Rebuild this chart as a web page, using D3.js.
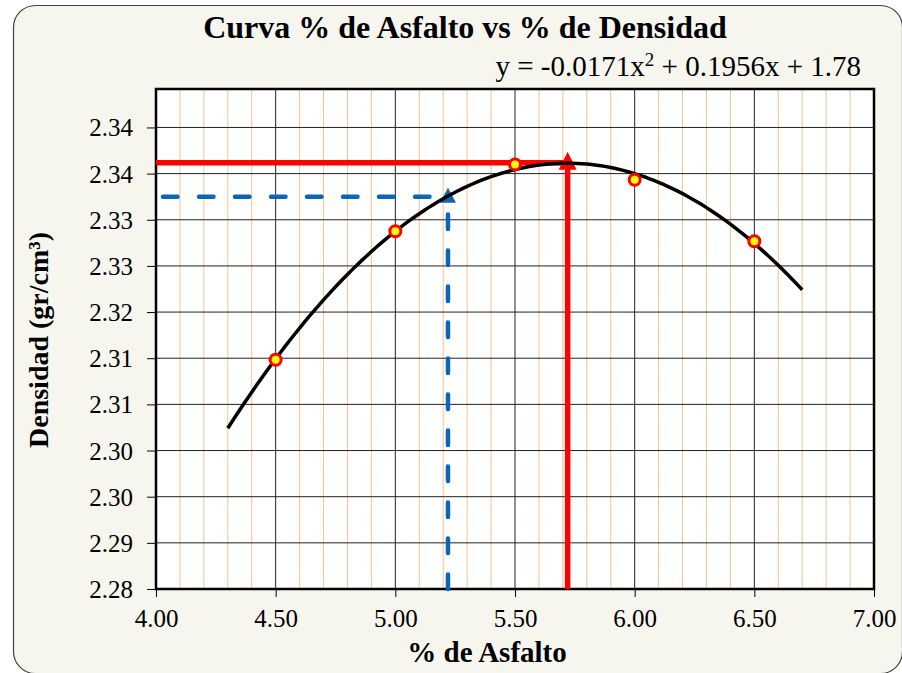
<!DOCTYPE html>
<html>
<head>
<meta charset="utf-8">
<script src="https://cdn.jsdelivr.net/npm/d3@7"></script>
<style>
  body { margin: 0; background: #ffffff; }
  svg text { font-family: "Liberation Serif", "Times New Roman", serif; fill: #000; }
</style>
</head>
<body>
<svg id="chart" width="902" height="673"></svg>
<script>
const width = 902;
const height = 673;
const margin = { top: 89, right: 28, bottom: 84, left: 156 };

// data
const asfalto = [4.5, 5.0, 5.5, 6.0, 6.5];
const densidad = [2.3138, 2.3305, 2.3392, 2.3372, 2.3292];
const coef = [-0.0171, 0.1956, 1.78];      // trend line y = a x^2 + b x + c
const curveRange = [4.3, 6.7];
const optimo = { x: 5.72, y: 2.3394 };       // red marker line
const diseno = { x: 5.22, y: 2.335 };        // blue dashed marker line
const xTicks = [4.0, 4.5, 5.0, 5.5, 6.0, 6.5, 7.0];
const xMinor = [4.1, 4.2, 4.3, 4.4, 4.6, 4.7, 4.8, 4.9, 5.1, 5.2, 5.3, 5.4, 5.6, 5.7, 5.8, 5.9,
                6.1, 6.2, 6.3, 6.4, 6.6, 6.7, 6.8, 6.9];
const yTicks = [2.284, 2.290, 2.296, 2.302, 2.308, 2.314, 2.320, 2.326, 2.332, 2.338, 2.344];
const yDomain = [2.284, 2.349];

const svg = d3.select("#chart");

// outer chart area
svg.append("rect")
  .attr("x", 13.5).attr("y", 5.5)
  .attr("width", 889).attr("height", 668)
  .attr("rx", 22)
  .attr("fill", "#f6f6ef")
  .attr("stroke", "#404040")
  .attr("stroke-width", 1.2);

const x = d3.scaleLinear().domain([4, 7]).range([margin.left, width - margin.right]);
const y = d3.scaleLinear().domain(yDomain).range([height - margin.bottom, margin.top]);

const plotW = x.range()[1] - x.range()[0];
const plotH = y.range()[0] - y.range()[1];

svg.append("rect")
  .attr("x", margin.left).attr("y", margin.top)
  .attr("width", plotW).attr("height", plotH)
  .attr("fill", "#ffffff");

// minor vertical grid (orange)
svg.append("g").selectAll("line").data(xMinor).join("line")
  .attr("x1", d => x(d)).attr("x2", d => x(d))
  .attr("y1", margin.top).attr("y2", margin.top + plotH)
  .attr("stroke", "#f7c090").attr("stroke-width", 1);

// major vertical grid
svg.append("g").selectAll("line").data(xTicks).join("line")
  .attr("x1", d => x(d)).attr("x2", d => x(d))
  .attr("y1", margin.top).attr("y2", margin.top + plotH)
  .attr("stroke", "#222").attr("stroke-width", 1);

// horizontal grid
svg.append("g").selectAll("line").data(yTicks).join("line")
  .attr("x1", margin.left).attr("x2", margin.left + plotW)
  .attr("y1", d => y(d)).attr("y2", d => y(d))
  .attr("stroke", "#222").attr("stroke-width", 1);

// plot border
svg.append("rect")
  .attr("x", margin.left).attr("y", margin.top)
  .attr("width", plotW).attr("height", plotH)
  .attr("fill", "none").attr("stroke", "#000").attr("stroke-width", 2.5);

// axes
const xAxis = svg.append("g")
  .attr("transform", `translate(0,${margin.top + plotH})`)
  .call(d3.axisBottom(x).tickValues(xTicks).tickFormat(d3.format(".2f")).tickSize(8).tickPadding(12));
xAxis.select(".domain").remove();
xAxis.selectAll("text").style("font-size", "25px");

const yAxis = svg.append("g")
  .attr("transform", `translate(${margin.left},0)`)
  .call(d3.axisLeft(y).tickValues(yTicks).tickFormat(d3.format(".2f")).tickSize(9).tickPadding(14));
yAxis.select(".domain").remove();
yAxis.selectAll("text").style("font-size", "25px").attr("dy", "0.34em");

// blue dashed design line
const blue = "#0b66b8";
svg.append("path")
  .attr("d", d3.line()([[x(4) + 7, y(diseno.y)], [x(diseno.x) - 6, y(diseno.y)]]))
  .attr("fill", "none").attr("stroke", blue).attr("stroke-width", 4.5)
  .attr("stroke-dasharray", "14.5,21.5").attr("stroke-linecap", "round");
svg.append("path")
  .attr("d", d3.line()([[x(diseno.x), y(yDomain[0])], [x(diseno.x), y(diseno.y) + 10]]))
  .attr("fill", "none").attr("stroke", blue).attr("stroke-width", 4.5)
  .attr("stroke-dasharray", "14.5,21.5").attr("stroke-linecap", "round");
svg.append("path")
  .attr("d", `M${x(diseno.x)},${y(diseno.y) - 9} l8,15 l-16,0 z`)
  .attr("fill", blue);

// red optimum line
const red = "#ff0000";
svg.append("line")
  .attr("x1", x(4)).attr("x2", x(optimo.x))
  .attr("y1", y(optimo.y)).attr("y2", y(optimo.y))
  .attr("stroke", red).attr("stroke-width", 5.5);
svg.append("line")
  .attr("x1", x(optimo.x)).attr("x2", x(optimo.x))
  .attr("y1", y(yDomain[0])).attr("y2", y(optimo.y) + 6)
  .attr("stroke", red).attr("stroke-width", 5.5);
svg.append("path")
  .attr("d", `M${x(optimo.x)},${y(optimo.y) - 11} l9,18 l-18,0 z`)
  .attr("fill", red);

// trend line
const trend = d3.range(curveRange[0], curveRange[1] + 0.0001, 0.02)
  .map(v => [v, coef[0] * v * v + coef[1] * v + coef[2]]);
svg.append("path")
  .datum(trend)
  .attr("d", d3.line().x(d => x(d[0])).y(d => y(d[1])))
  .attr("fill", "none").attr("stroke", "#000").attr("stroke-width", 3.5);

// data points
svg.append("g").selectAll("circle").data(asfalto).join("circle")
  .attr("cx", d => x(d))
  .attr("cy", (d, i) => y(densidad[i]))
  .attr("r", 5.5)
  .attr("fill", "#ffff00")
  .attr("stroke", red).attr("stroke-width", 3);

// texts
svg.append("text")
  .attr("x", 465).attr("y", 38)
  .attr("text-anchor", "middle")
  .style("font-size", "32px").style("font-weight", "bold")
  .text("Curva % de Asfalto vs % de Densidad");

const eq = svg.append("text")
  .attr("x", 861).attr("y", 76)
  .attr("text-anchor", "end")
  .style("font-size", "29px");
eq.append("tspan").text("y = -0.0171x");
eq.append("tspan").attr("dy", -10).style("font-size", "19px").text("2");
eq.append("tspan").attr("dy", 10).text(" + 0.1956x + 1.78");

svg.append("text")
  .attr("x", 487).attr("y", 662)
  .attr("text-anchor", "middle")
  .style("font-size", "29px").style("font-weight", "bold")
  .text("% de Asfalto");

svg.append("text")
  .attr("transform", `translate(48,340) rotate(-90)`)
  .attr("text-anchor", "middle")
  .style("font-size", "28px").style("font-weight", "bold")
  .text("Densidad (gr/cm³)");
</script>
</body>
</html>
